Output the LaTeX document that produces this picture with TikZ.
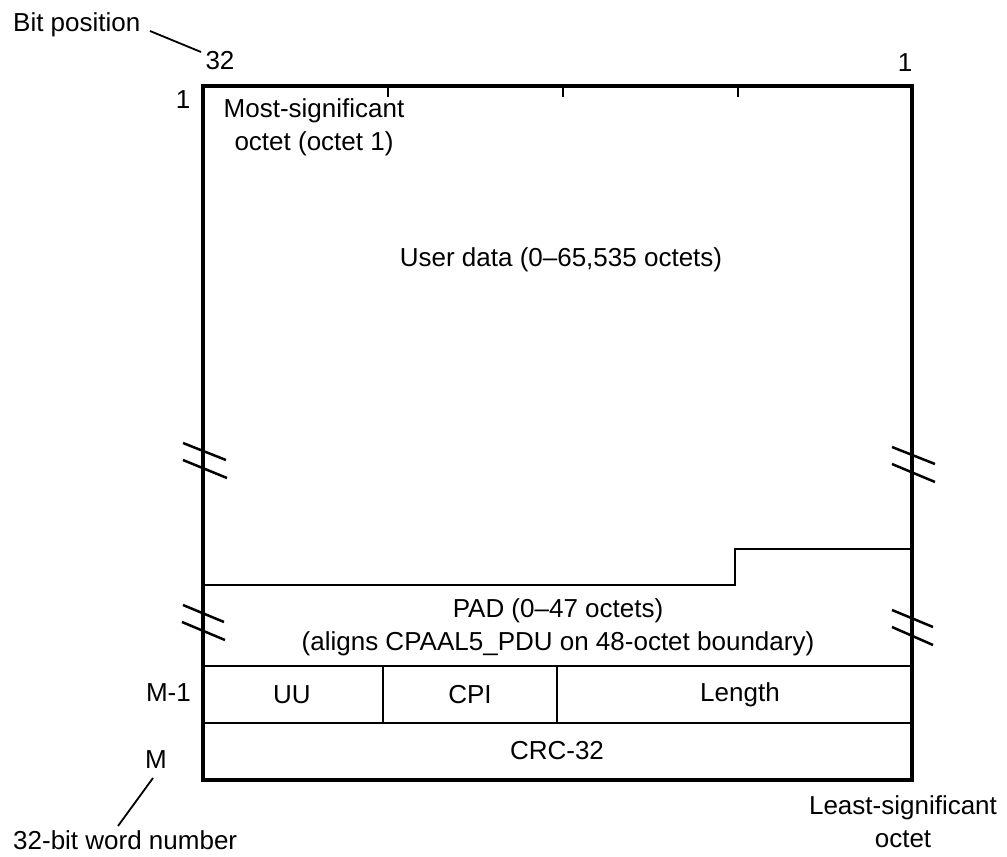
\documentclass[tikz,border=0pt]{standalone}
\usepackage{fontspec}
\setmainfont{Liberation Sans}
\begin{document}
\begin{tikzpicture}[x=1pt,y=-1pt,
  every node/.style={font=\fontsize{26}{33}\selectfont, inner sep=0pt},
  frame/.style={line width=3.5pt, line join=miter},
  rule/.style={line width=2.5pt},
  brk/.style={line width=2.5pt},
  lead/.style={line width=1.8pt}]
\useasboundingbox (0,0) rectangle (1007,857);
% outer frame
\draw[frame] (203,86) rectangle (912,780);
% ticks
\draw[rule] (388,86) -- (388,97);
\draw[rule] (563,86) -- (563,97);
\draw[rule] (738,86) -- (738,97);
% step between user data and PAD
\draw[rule] (912,549) -- (735,549) -- (735,585) -- (203,585);
% rows
\draw[rule] (203,666) -- (912,666);
\draw[rule] (203,723) -- (912,723);
\draw[rule] (383,666) -- (383,723);
\draw[rule] (557,666) -- (557,723);
% break marks
\draw[brk] (183,443) -- (226,460);
\draw[brk] (183,460) -- (227,478);
\draw[brk] (892,447) -- (935,464);
\draw[brk] (892,464) -- (935,482);
\draw[brk] (183,605) -- (224,622);
\draw[brk] (182,622) -- (225,640);
\draw[brk] (892,610) -- (933,627);
\draw[brk] (892,627) -- (933,645);
% labels
\node[anchor=west] (bp) at (13,25) {Bit position};
\node (b32) at (220,61) {32};
\node (b1) at (905,63) {1};
\node (w1) at (183,100) {1};
\coordinate (bpA) at (150,31);
\coordinate (bpB) at (201,52);
\draw[lead] (bpA) -- (bpB);
\node[align=center] (msb) at (314,127) {Most-significant\\octet (octet 1)};
\node (ud) at (561,260) {User data (0--65,535 octets)};
\node[align=center] (pad) at (558,627) {PAD (0--47 octets)\\(aligns CPAAL5\_PDU on 48-octet boundary)};
\node (uu) at (292,695) {UU};
\node (cpi) at (470,695) {CPI};
\node (len) at (740,695) {Length};
\node (crc) at (557,751) {CRC-32};
\node[anchor=east] (wm1) at (191,693) {M-1};
\node (wm) at (156,760) {M};
\coordinate (wmA) at (153,778);
\coordinate (wmB) at (118,826);
\draw[lead] (wmA) -- (wmB);
\node[anchor=west] (wn) at (13,840) {32-bit word number};
\node[align=center] (lso) at (903,822) {Least-significant\\octet};
\end{tikzpicture}
\end{document}
